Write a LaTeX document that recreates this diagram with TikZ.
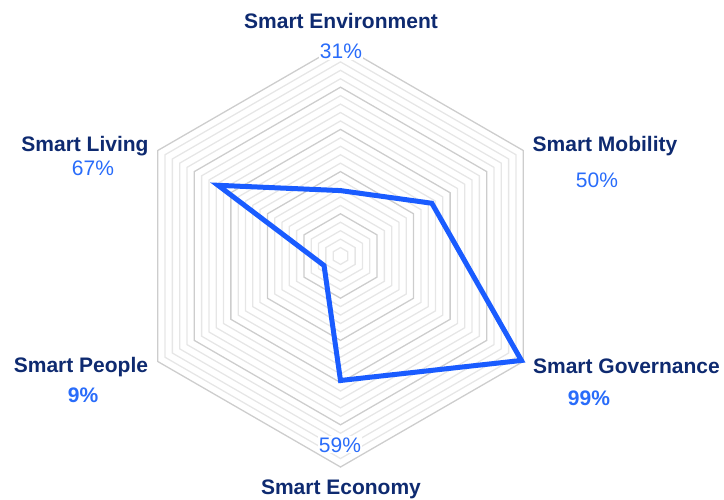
\documentclass[tikz,border=0pt]{standalone}
\usepackage{fontspec}
\setmainfont{Liberation Sans}
\definecolor{navy}{RGB}{14,42,112}
\definecolor{valblue}{RGB}{41,108,250}
\definecolor{lineblue}{RGB}{26,92,255}
\definecolor{gridlight}{RGB}{230,230,230}
\definecolor{griddark}{RGB}{205,205,205}
\tikzset{
  axislabel/.style={anchor=base, inner sep=0pt, text=navy, font=\fontsize{21}{25}\selectfont\bfseries},
  value/.style={anchor=base, inner sep=1pt, text=valblue, font=\fontsize{21}{25}\selectfont},
  boldvalue/.style={value, font=\fontsize{21}{25}\selectfont\bfseries},
}
\begin{document}
\begin{tikzpicture}[x=1pt,y=1pt]
                \useasboundingbox (0,0) rectangle (724,499);
                % Grid rings
                \begin{scope}[shift={(340.5,243)}]
                \foreach \k in {1,...,25}{
                  \pgfmathsetmacro{\r}{\k*211/25}
                  \pgfmathtruncatemacro{\m}{mod(\k,5)}
                  \ifnum\m=0 \def\ringcol{griddark}\else \def\ringcol{gridlight}\fi
                  \draw[\ringcol, line width=1.3pt] (90:\r) -- (30:\r) -- (-30:\r) -- (-90:\r) -- (210:\r) -- (150:\r) -- cycle;
                }
                % Data points
                \coordinate (env) at (90:65.4);
                \coordinate (mob) at (30:105.5);
                \coordinate (gov) at (-30:208.9);
                \coordinate (eco) at (-90:124.5);
                \coordinate (peo) at (210:19.0);
                \coordinate (liv) at (150:141.4);
                \draw[lineblue, line width=5pt, line join=miter] (env) -- (mob) -- (gov) -- (eco) -- (peo) -- (liv) -- cycle;
                \end{scope}
                % Labels
                \node [axislabel] (envlabel) at (341,470) {Smart Environment};
                \node [value, fill=white] (envvalue) at (341,440) {31\%};
                \node [axislabel] (moblabel) at (605,347) {Smart Mobility};
                \node [value] (mobvalue) at (597,311) {50\%};
                \node [axislabel] (govlabel) at (626.5,126) {Smart Governance};
                \node [boldvalue] (govvalue) at (589,94) {99\%};
                \node [axislabel] (ecolabel) at (341,5) {Smart Economy};
                \node [value, fill=white] (ecovalue) at (340,47) {59\%};
                \node [axislabel] (peolabel) at (81,127) {Smart People};
                \node [boldvalue] (peovalue) at (83,96) {9\%};
                \node [axislabel] (livlabel) at (85,347) {Smart Living};
                \node [value] (livvalue) at (93,323) {67\%};
\end{tikzpicture}
\end{document}
